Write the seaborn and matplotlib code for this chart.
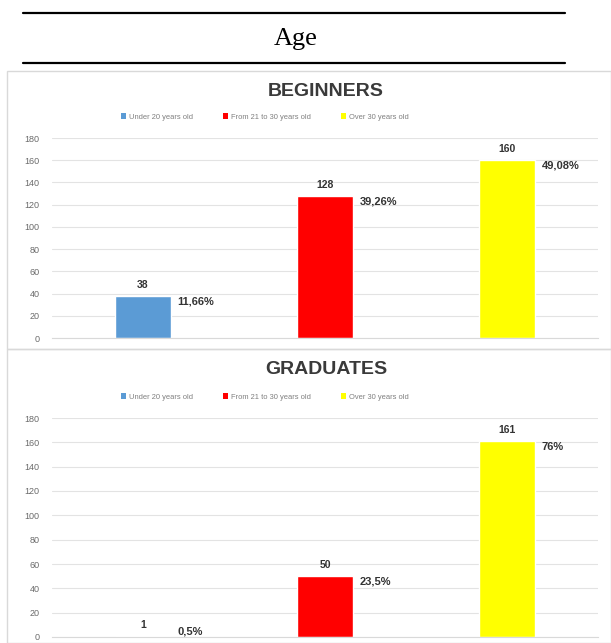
import matplotlib
matplotlib.use("Agg")
import matplotlib.pyplot as plt
import seaborn as sns
import pandas as pd
from matplotlib.patches import Rectangle
from matplotlib.lines import Line2D

# ---- data -------------------------------------------------------------
age_groups = ["Under 20 years old", "From 21 to 30 years old", "Over 30 years old"]
group_colors = ["#5B9BD5", "#FF0000", "#FFFF00"]

beginners_counts = [38, 128, 160]
beginners_shares = ["11,66%", "39,26%", "49,08%"]

graduates_counts = [1, 50, 161]
graduates_shares = ["0,5%", "23,5%", "76%"]

y_ticks = [0, 20, 40, 60, 80, 100, 120, 140, 160, 180]

# ---- style ------------------------------------------------------------
sns.set_theme(style="white")
plt.rcParams["font.family"] = ["Liberation Sans", "DejaVu Sans"]

W, H = 611, 643
fig = plt.figure(figsize=(W / 100, H / 100), dpi=100)
fig.patch.set_facecolor("white")


def fx(px):
    return px / W


def fy(py):
    return 1 - py / H


# ---- table header -------------------------------------------------------
for y in (13, 63):
    fig.add_artist(Line2D([fx(23), fx(565)], [fy(y), fy(y)],
                          color="black", lw=1.6, transform=fig.transFigure))
fig.text(fx(296), fy(39), "Age", ha="center", va="center", fontsize=19,
         family=["Liberation Serif", "DejaVu Serif"], color="black")

# ---- panel frames -------------------------------------------------------
for top, bottom in ((71, 349), (349, 643)):
    fig.add_artist(Rectangle((fx(7), fy(bottom)), fx(611) - fx(7), fy(top) - fy(bottom),
                             transform=fig.transFigure, fill=False,
                             edgecolor="#D9D9D9", lw=1.0))


def draw_panel(rect, title, title_y, legend_y, counts, shares):
    ax = fig.add_axes(rect)
    df = pd.DataFrame({"group": age_groups, "count": counts})
    sns.barplot(data=df, x="group", y="count", hue="group", order=age_groups,
                hue_order=age_groups, palette=group_colors, width=0.31,
                saturation=1, legend=False, ax=ax)
    ax.set_ylim(0, 180)
    ax.set_xlim(-0.5, 2.5)
    ax.set_yticks(y_ticks)
    ax.set_xticks([])
    ax.set_xlabel("")
    ax.set_ylabel("")
    ax.yaxis.grid(True, color="#E3E3E3", lw=0.8)
    ax.set_axisbelow(True)
    for side in ("top", "right", "left"):
        ax.spines[side].set_visible(False)
    ax.spines["bottom"].set_color("#D9D9D9")
    ax.spines["bottom"].set_linewidth(0.8)
    ax.tick_params(axis="y", length=0, pad=9, labelsize=6.5, labelcolor="#6B6B6B")
    ax.set_facecolor("white")

    for i, (c, s) in enumerate(zip(counts, shares)):
        ax.annotate(str(c), (i, c), xytext=(0, 8), textcoords="offset points",
                    ha="center", va="center", fontsize=7.5, fontweight="bold",
                    color="#333333")
        # keep the share label of very short bars above the baseline
        ax.annotate(s, (i + 0.155, max(c, 9)), xytext=(4.5, -4),
                    textcoords="offset points", ha="left", va="center",
                    fontsize=8, fontweight="bold", color="#333333")

    fig.text(fx(326), fy(title_y), title, ha="center", va="center",
             fontsize=14, fontweight="bold", color="#3A3A3A")

    handles = [Rectangle((0, 0), 1, 1, facecolor=col, edgecolor="none")
               for col in group_colors]
    fig.legend(handles, age_groups, loc="center", ncol=3,
               bbox_to_anchor=(fx(265), fy(legend_y)), frameon=False,
               fontsize=5.4, labelcolor="#7F7F7F", handlelength=0.7,
               handleheight=0.7, handletextpad=0.4, columnspacing=4.0)
    return ax


draw_panel([fx(52), fy(338), fx(598) - fx(52), fy(138) - fy(338)],
           "BEGINNERS", 92, 117, beginners_counts, beginners_shares)
draw_panel([fx(52), fy(637), fx(598) - fx(52), fy(418) - fy(637)],
           "GRADUATES", 369, 397, graduates_counts, graduates_shares)

fig.savefig("out.png", dpi=100)
